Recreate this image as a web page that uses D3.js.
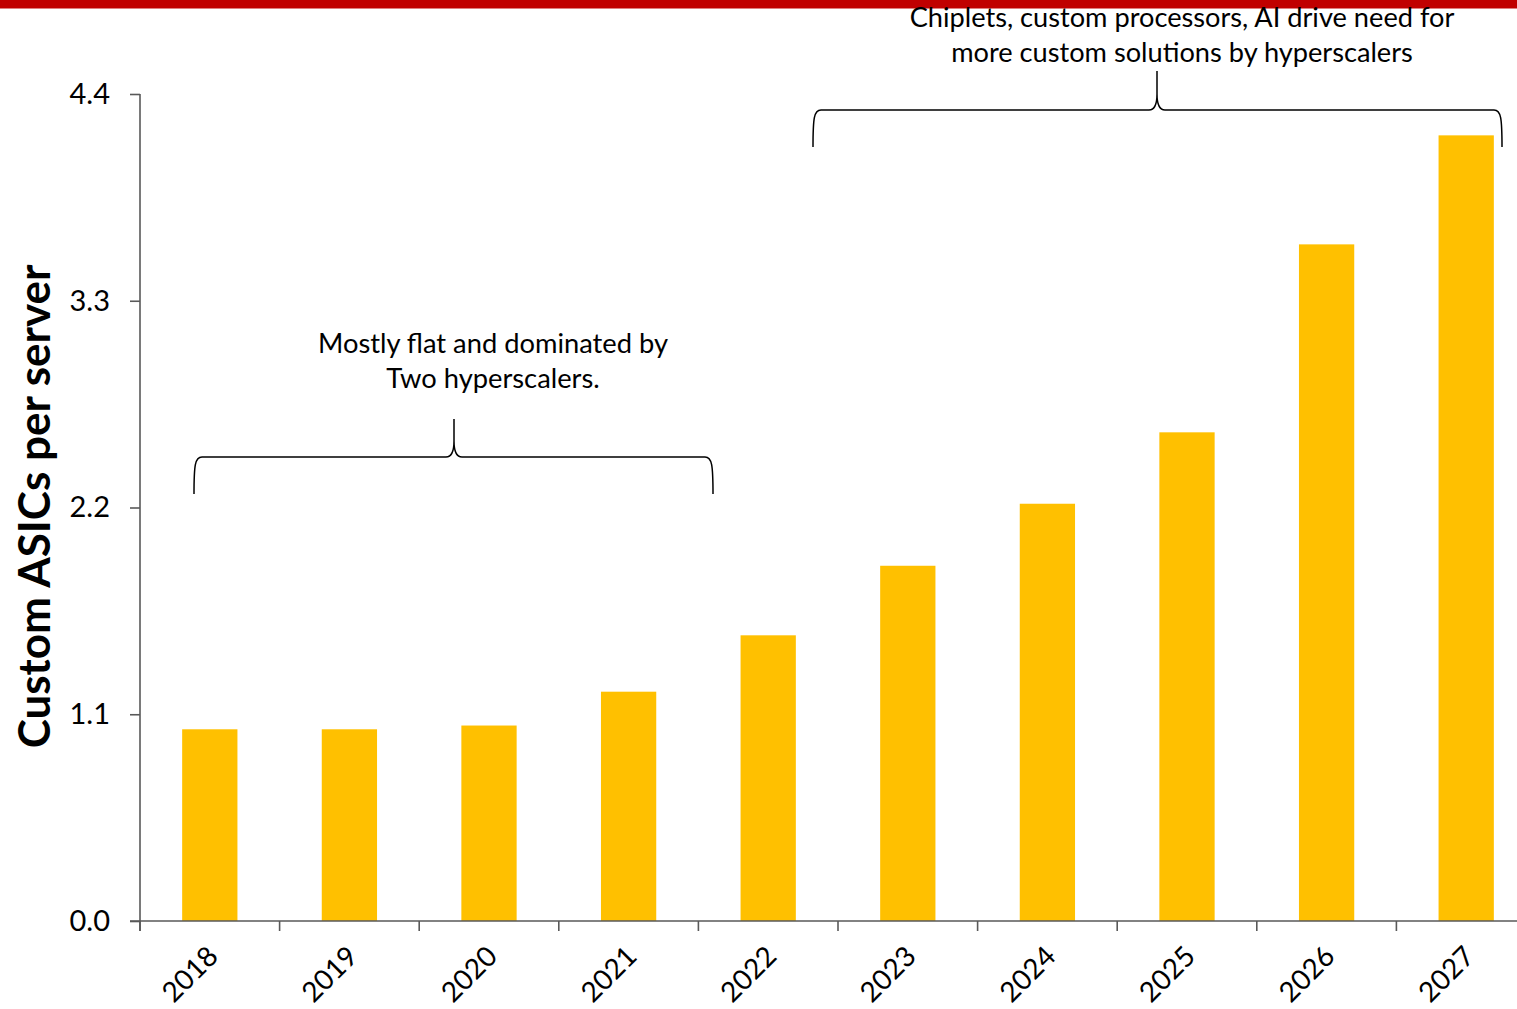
<!DOCTYPE html>
<html><head><meta charset="utf-8">
<script src="https://cdn.jsdelivr.net/npm/d3@7"></script>
<style>body{margin:0;background:#fff}svg{display:block;font-family:Lato,"Open Sans",sans-serif}</style>
</head><body>
<script>
const years = ["2018","2019","2020","2021","2022","2023","2024","2025","2026","2027"];
const values = [1.02, 1.02, 1.04, 1.22, 1.52, 1.89, 2.22, 2.60, 3.60, 4.18];
const yTicks = [0, 1.1, 2.2, 3.3, 4.4];
const yTitle = "Custom ASICs per server";
const note1 = ["Mostly flat and dominated by", "Two hyperscalers."];
const note2 = ["Chiplets, custom processors, AI drive need for", "more custom solutions by hyperscalers"];

const W = 1517, H = 1009;
const svg = d3.select("body").append("svg").attr("width", W).attr("height", H);

svg.append("rect").attr("x",0).attr("y",0).attr("width",W).attr("height",8.5).attr("fill","#c00000");

const x = d3.scaleBand().domain(years).range([140, 1536]).padding(0);
const y = d3.scaleLinear().domain([0, 4.4]).range([921, 94]);
const barW = x.bandwidth() * 0.396;
const axisCol = "#595959";

// bars
svg.selectAll("rect.bar").data(years).enter().append("rect")
  .attr("class","bar")
  .attr("x", (d,i) => x(d) + x.bandwidth()/2 - barW/2)
  .attr("width", barW)
  .attr("y", (d,i) => y(values[i]))
  .attr("height", (d,i) => y(0) - y(values[i]))
  .attr("fill", "#FFC000");

// y axis
const yAxis = d3.axisLeft(y).tickValues(yTicks).tickFormat(d3.format(".1f")).tickSize(10).tickPadding(20);
const gy = svg.append("g").attr("transform","translate(140,0)").call(yAxis);
gy.select(".domain").attr("d", `M0,${y(4.4)}V${y(0)+10}`).attr("stroke", axisCol).attr("stroke-width",1.6);
gy.selectAll(".tick line").attr("stroke", axisCol).attr("stroke-width",1.6);
gy.selectAll(".tick text").attr("font-size", 29).attr("fill","#000").attr("font-family","Lato");

// x axis
const gx = svg.append("g");
gx.append("line").attr("x1",130).attr("x2",W).attr("y1",y(0)).attr("y2",y(0)).attr("stroke",axisCol).attr("stroke-width",1.6);
gx.selectAll("line.tk").data(years).enter().append("line").attr("class","tk")
  .attr("x1", d => x(d)).attr("x2", d => x(d)).attr("y1", y(0)).attr("y2", y(0)+10)
  .attr("stroke", axisCol).attr("stroke-width",1.6);
gx.selectAll("text").data(years).enter().append("text")
  .attr("transform", d => `translate(${x(d)+x.bandwidth()/2+10},${y(0)+37}) rotate(-45)`)
  .attr("text-anchor","end").attr("font-size",28).attr("fill","#000").text(d => d);

// y title
svg.append("text").attr("transform",`translate(50,${(265+748)/2}) rotate(-90)`)
  .attr("text-anchor","middle").attr("font-size",44).attr("font-weight","bold").attr("fill","#000").text(yTitle);

// braces
function brace(x0, x1, tip, yH, yEnd, yTip){
  const r = 8;
  return `M${x0},${yEnd} C${x0},${yH+8} ${x0+1},${yH} ${x0+r},${yH} L${tip-r},${yH} C${tip-2},${yH} ${tip},${yH-6} ${tip},${yH-16} L${tip},${yTip}`+
         ` M${tip},${yH-16} C${tip},${yH-6} ${tip+2},${yH} ${tip+r},${yH} L${x1-r},${yH} C${x1-1},${yH} ${x1},${yH+8} ${x1},${yEnd}`;
}
svg.append("path").attr("d", brace(194, 713, 454, 457, 494, 419)).attr("fill","none").attr("stroke","#000").attr("stroke-width",1.5);
svg.append("path").attr("d", brace(813, 1502, 1157, 110, 147, 71)).attr("fill","none").attr("stroke","#000").attr("stroke-width",1.5);

svg.selectAll("text.n1").data(note1).enter().append("text").attr("class","n1")
  .attr("x", 493).attr("y",(d,i)=>353+i*35).attr("text-anchor","middle").attr("font-size",27.3).attr("fill","#000").text(d=>d);
svg.selectAll("text.n2").data(note2).enter().append("text").attr("class","n2")
  .attr("x", 1182).attr("y",(d,i)=>27+i*35).attr("text-anchor","middle").attr("font-size",27.2).attr("fill","#000").text(d=>d);
</script>
</body></html>
